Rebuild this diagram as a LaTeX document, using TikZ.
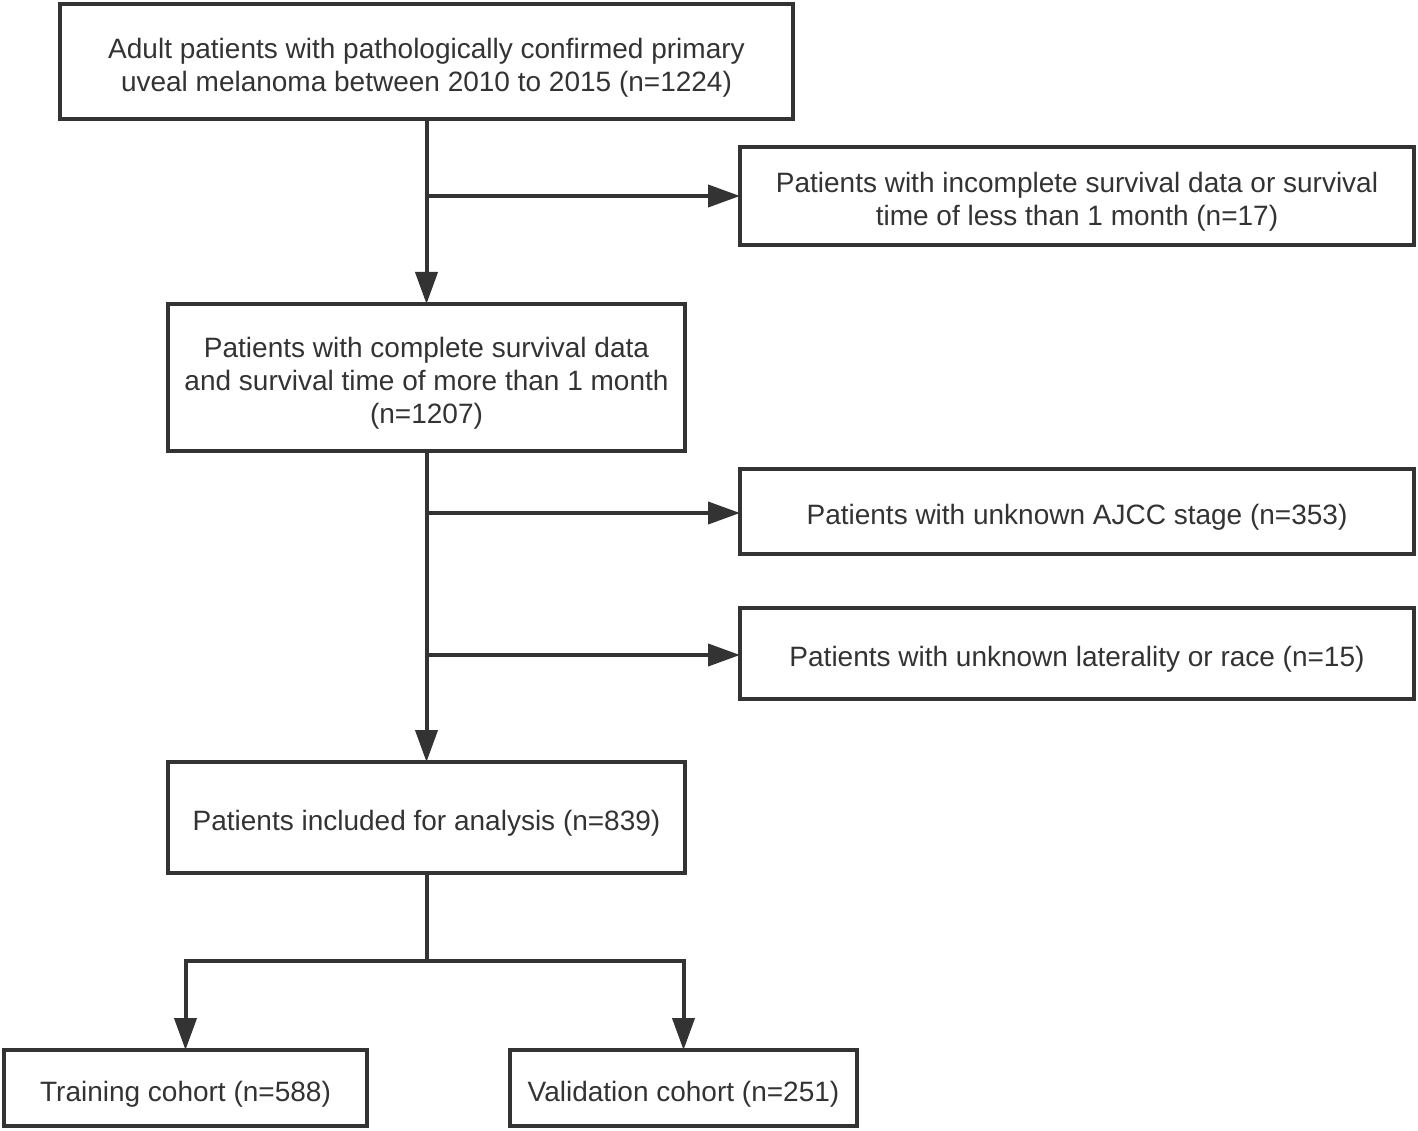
\documentclass[tikz,border=0pt]{standalone}
\usepackage{fontspec}
\setmainfont{Liberation Sans}
\usetikzlibrary{arrows.meta}
\definecolor{ink}{HTML}{333333}
\begin{document}
\begin{tikzpicture}[x=1pt,y=-1pt,
  box/.style={draw=ink, line width=4pt, inner sep=0pt, outer sep=0pt},
  txt/.style={text=ink, align=center, font=\fontsize{28}{33}\selectfont,
    inner sep=0pt, yshift=-6pt},
  arr/.style={draw=ink, line width=4pt, -{Triangle[length=32pt,width=22pt]}},
  ln/.style={draw=ink, line width=4pt}]
\useasboundingbox (0,0) rectangle (1418,1131);

\node[box, minimum width=733pt, minimum height=115pt] (b1) at (426.5,61.5) {};
\node[txt] (t1) at (b1.center)
  {Adult patients with pathologically confirmed primary\\ uveal melanoma between 2010 to 2015 (n=1224)};
\node[box, minimum width=674pt, minimum height=98pt] (b2) at (1077,196) {};
\node[txt] (t2) at (b2.center)
  {Patients with incomplete survival data or survival\\ time of less than 1 month (n=17)};
\node[box, minimum width=517pt, minimum height=147pt] (b3) at (426.5,377.5) {};
\node[txt] (t3) at (b3.center)
  {Patients with complete survival data\\ and survival time of more than 1 month\\ (n=1207)};
\node[box, minimum width=674pt, minimum height=85pt] (b4) at (1077,511.5) {};
\node[txt] (t4) at (b4.center)
  {Patients with unknown AJCC stage (n=353)};
\node[box, minimum width=674pt, minimum height=91pt] (b5) at (1077,653.5) {};
\node[txt] (t5) at (b5.center)
  {Patients with unknown laterality or race (n=15)};
\node[box, minimum width=517pt, minimum height=111pt] (b6) at (426.5,817.5) {};
\node[txt] (t6) at (b6.center)
  {Patients included for analysis (n=839)};
\node[box, minimum width=363pt, minimum height=76pt] (b7) at (185.5,1088) {};
\node[txt] (t7) at (b7.center)
  {Training cohort (n=588)};
\node[box, minimum width=347pt, minimum height=76pt] (b8) at (683.5,1088) {};
\node[txt] (t8) at (b8.center)
  {Validation cohort (n=251)};

\coordinate (j1) at (426.5,196);
\coordinate (j2) at (426.5,513);
\coordinate (j3) at (426.5,655);
\coordinate (j4) at (426.5,961);

\draw[arr] (b1.south) -- (b3.north);
\draw[arr] (j1) -- (b2.west);
\draw[arr] (b3.south) -- (b6.north);
\draw[arr] (j2) -- (b4.west |- j2);
\draw[arr] (j3) -- (b5.west |- j3);
\draw[ln] (b6.south) -- (j4);
\draw[arr] (j4) -| (b7.north);
\draw[arr] (j4) -| (b8.north);
\end{tikzpicture}
\end{document}
